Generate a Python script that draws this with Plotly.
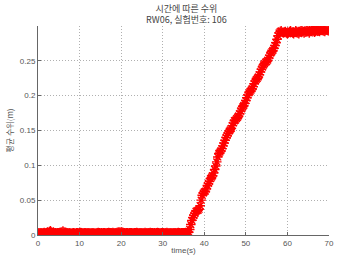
import plotly.graph_objects as go

# sample times (s), 0.25 s step
time_s = [i * 0.25 for i in range(281)]

# mean water level (m)
level_m = [
    0.0030, 0.0028, 0.0033, 0.0031, 0.0027, 0.0032, 0.0035, 0.0029, 0.0031, 0.0034,
    0.0036, 0.0048, 0.0060, 0.0042, 0.0033, 0.0030, 0.0028, 0.0031, 0.0029, 0.0033,
    0.0030, 0.0032, 0.0036, 0.0041, 0.0055, 0.0044, 0.0034, 0.0029, 0.0031, 0.0028,
    0.0030, 0.0027, 0.0025, 0.0029, 0.0031, 0.0028, 0.0026, 0.0030, 0.0033, 0.0029,
    0.0031, 0.0034, 0.0030, 0.0027, 0.0029, 0.0032, 0.0030, 0.0028, 0.0031, 0.0033,
    0.0029, 0.0027, 0.0030, 0.0032, 0.0028, 0.0026, 0.0029, 0.0031, 0.0034, 0.0030,
    0.0028, 0.0031, 0.0029, 0.0033, 0.0030, 0.0027, 0.0029, 0.0032, 0.0035, 0.0031,
    0.0030, 0.0033, 0.0036, 0.0032, 0.0029, 0.0031, 0.0034, 0.0038, 0.0041, 0.0036,
    0.0044, 0.0040, 0.0034, 0.0031, 0.0029, 0.0032, 0.0030, 0.0028, 0.0031, 0.0033,
    0.0030, 0.0027, 0.0029, 0.0032, 0.0030, 0.0034, 0.0031, 0.0028, 0.0030, 0.0033,
    0.0031, 0.0029, 0.0032, 0.0035, 0.0031, 0.0028, 0.0030, 0.0033, 0.0036, 0.0032,
    0.0030, 0.0028, 0.0031, 0.0029, 0.0032, 0.0034, 0.0030, 0.0027, 0.0029, 0.0031,
    0.0033, 0.0030, 0.0028, 0.0031, 0.0034, 0.0031, 0.0029, 0.0032, 0.0030, 0.0028,
    0.0031, 0.0033, 0.0030, 0.0029, 0.0032, 0.0035, 0.0031, 0.0029, 0.0032, 0.0030,
    0.0033, 0.0031, 0.0034, 0.0032, 0.0036, 0.0041, 0.0080, 0.0150, 0.0210, 0.0250,
    0.0280, 0.0310, 0.0340, 0.0350, 0.0355, 0.0370, 0.0420, 0.0500, 0.0570, 0.0600,
    0.0620, 0.0630, 0.0660, 0.0710, 0.0740, 0.0770, 0.0810, 0.0830, 0.0850, 0.0890,
    0.0940, 0.0990, 0.1050, 0.1120, 0.1170, 0.1190, 0.1210, 0.1240, 0.1280, 0.1320,
    0.1360, 0.1400, 0.1430, 0.1460, 0.1490, 0.1510, 0.1530, 0.1570, 0.1610, 0.1640,
    0.1650, 0.1670, 0.1690, 0.1710, 0.1740, 0.1780, 0.1810, 0.1840, 0.1860, 0.1890,
    0.1930, 0.1970, 0.2010, 0.2040, 0.2060, 0.2080, 0.2100, 0.2130, 0.2170, 0.2210,
    0.2230, 0.2250, 0.2270, 0.2300, 0.2340, 0.2380, 0.2410, 0.2440, 0.2460, 0.2480,
    0.2490, 0.2510, 0.2540, 0.2580, 0.2610, 0.2630, 0.2650, 0.2680, 0.2720, 0.2760,
    0.2810, 0.2860, 0.2900, 0.2920, 0.2930, 0.2910, 0.2900, 0.2910, 0.2920, 0.2900,
    0.2890, 0.2900, 0.2920, 0.2930, 0.2910, 0.2900, 0.2890, 0.2910, 0.2930, 0.2920,
    0.2900, 0.2890, 0.2910, 0.2930, 0.2940, 0.2920, 0.2900, 0.2910, 0.2930, 0.2940,
    0.2920, 0.2900, 0.2920, 0.2940, 0.2950, 0.2930, 0.2910, 0.2920, 0.2940, 0.2950,
    0.2930, 0.2920, 0.2940, 0.2950, 0.2940, 0.2930, 0.2920, 0.2940, 0.2950, 0.2940,
    0.2930,
]

x_ticks = [0, 10, 20, 30, 40, 50, 60, 70]
y_ticks = [0, 0.05, 0.1, 0.15, 0.2, 0.25]
y_tick_text = ["0", "0.05", "0.1", "0.15", "0.2", "0.25"]

title_text = "시간에 따른 수위<br>RW06, 실험번호: 106"
x_title = "time(s)"
y_title = "평균 수위(m)"

KR = "Noto Sans CJK KR"
NUM = "Liberation Sans"

fig = go.Figure()
fig.add_trace(go.Scatter(
    x=time_s, y=level_m, mode="markers",
    marker=dict(symbol="asterisk-open", size=8, color="#ff0000",
                line=dict(color="#ff0000", width=1.4)),
    showlegend=False, hoverinfo="skip",
))

fig.update_layout(
    width=342, height=261,
    margin=dict(l=38, r=8, t=26, b=20),
    paper_bgcolor="white", plot_bgcolor="white",
    title=dict(text=title_text, x=0.545, xanchor="center",
               y=0.955, yanchor="top", yref="container",
               font=dict(family=KR, size=9, color="#444444")),
    font=dict(family=NUM, size=8, color="#555555"),
)
fig.update_xaxes(
    range=[0, 70], tickvals=x_ticks, showgrid=True,
    gridcolor="#b0b0b0", griddash="1px,2px", gridwidth=1,
    showline=True, linecolor="#666666", linewidth=1, zeroline=False,
    ticks="inside", ticklen=3, tickcolor="#666666",
    tickfont=dict(family=NUM, size=8, color="#555555"),
    title=dict(text=x_title, standoff=0,
               font=dict(family=NUM, size=8, color="#555555")),
)
fig.update_yaxes(
    range=[0, 0.3], tickvals=y_ticks, ticktext=y_tick_text, showgrid=True,
    gridcolor="#b0b0b0", griddash="1px,2px", gridwidth=1,
    showline=True, linecolor="#666666", linewidth=1, zeroline=False,
    ticks="inside", ticklen=3, tickcolor="#666666",
    tickfont=dict(family=NUM, size=8, color="#555555"),
    title=dict(text=y_title, standoff=5,
               font=dict(family=KR, size=8, color="#555555")),
)

fig.write_html("out.html")
